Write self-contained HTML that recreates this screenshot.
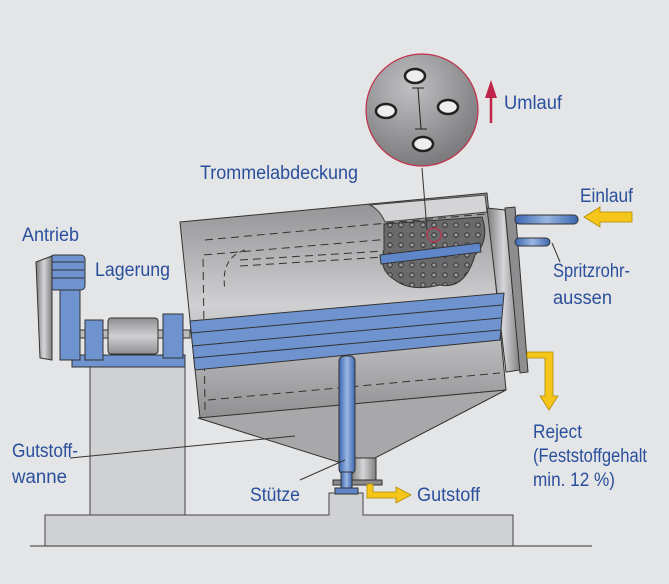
<!DOCTYPE html>
<html><head><meta charset="utf-8"><style>
html,body{margin:0;padding:0;background:#e4e5e7}
svg{display:block}
text{font-family:"Liberation Sans",sans-serif;font-size:19px;fill:#2a4f9c}
</style></head><body>
<svg width="669" height="584" viewBox="0 0 669 584" xmlns="http://www.w3.org/2000/svg">
<defs>
<linearGradient id="g" x1="0" y1="0" x2="0" y2="1"><stop offset="0" stop-color="#8e8e90"/><stop offset="0.5" stop-color="#d0d0d2"/><stop offset="1" stop-color="#909092"/></linearGradient>
<linearGradient id="gh" x1="0" y1="0" x2="1" y2="0"><stop offset="0" stop-color="#7a7a7c"/><stop offset="0.5" stop-color="#d6d6d8"/><stop offset="1" stop-color="#7e7e80"/></linearGradient>
<radialGradient id="gc" cx="0.4" cy="0.3" r="0.8"><stop offset="0" stop-color="#c0c0c2"/><stop offset="1" stop-color="#727274"/></radialGradient>
<linearGradient id="gb" x1="0" y1="0" x2="1" y2="0"><stop offset="0" stop-color="#3c66b0"/><stop offset="0.5" stop-color="#9ab6e2"/><stop offset="1" stop-color="#3c66b0"/></linearGradient>
<pattern id="holes" width="11" height="10" patternUnits="userSpaceOnUse"><rect width="11" height="10" fill="#6a6a6c"/><circle cx="5" cy="5" r="2.2" fill="#9a9a9c" stroke="#222" stroke-width="0.8"/></pattern>
</defs>
<rect width="669" height="584" fill="#e4e5e7"/>
<polygon points="45,515 329,515 329,493 363,493 363,515 513,515 513,546 45,546" fill="#d0d1d3" stroke="#444" stroke-width="1"/>
<polygon points="90,365 185,365 185,515 90,515" fill="#d0d1d3" stroke="#444" stroke-width="1"/>
<line x1="30" y1="546" x2="592" y2="546" stroke="#333" stroke-width="1"/>
<rect x="72" y="355" width="113" height="12" fill="#6e93cf" stroke="#333"/>
<rect x="60" y="268" width="20" height="92" fill="#6e93cf" stroke="#333"/>
<rect x="50" y="255" width="35" height="35" rx="4" fill="#6e93cf" stroke="#333"/>
<line x1="52" y1="262" x2="84" y2="262" stroke="#333"/><line x1="52" y1="270" x2="84" y2="270" stroke="#333"/><line x1="52" y1="278" x2="84" y2="278" stroke="#333"/>
<path d="M36,262 L52,256 L52,360 L40,358 Z" fill="url(#gh)" stroke="#333"/>
<rect x="80" y="330" width="110" height="8" fill="#bbb" stroke="#333"/>
<rect x="85" y="320" width="18" height="40" fill="#6e93cf" stroke="#333"/>
<rect x="108" y="318" width="50" height="36" rx="3" fill="url(#g)" stroke="#333"/>
<rect x="163" y="314" width="20" height="44" fill="#6e93cf" stroke="#333"/>
<polygon points="180,222 487,193 506,390 200,418" fill="url(#g)" stroke="#333" stroke-width="1"/>
<polygon points="198,418 506,390 375,458 338,462" fill="#a8a8aa" stroke="#333"/>
<rect x="350" y="458" width="26" height="23" fill="url(#gh)" stroke="#333"/>
<rect x="333" y="480" width="49" height="5" fill="#8a8a8c" stroke="#333"/>
<polyline points="205,410 203,255 495,230" fill="none" stroke="#333" stroke-dasharray="8,5"/>
<line x1="208" y1="400" x2="500" y2="373" stroke="#333" stroke-dasharray="8,5"/>
<line x1="205" y1="240" x2="495" y2="213" stroke="#333" stroke-dasharray="8,5"/>
<line x1="240" y1="260" x2="400" y2="250" stroke="#333" stroke-dasharray="8,5"/>
<line x1="240" y1="266" x2="400" y2="256" stroke="#333" stroke-dasharray="8,5"/>
<path d="M245,250 Q220,258 225,290" fill="none" stroke="#333" stroke-dasharray="6,4"/>
<path d="M384,224 L482,217 Q490,240 475,255 Q465,290 440,285 Q410,292 395,280 Q378,270 384,250 Z" fill="url(#holes)" stroke="#333"/>
<path d="M370,205 L485,195 L487,212 L385,222 Q380,210 370,205 Z" fill="#d4d4d6" stroke="#444"/>
<polygon points="380,255 480,243 481,252 381,264" fill="#5f86c8" stroke="#333"/>
<circle cx="434" cy="235" r="7" fill="none" stroke="#c0304a" stroke-width="1.2"/>
<polygon points="487,208 505,210 520,370 506,372" fill="url(#gh)" stroke="#333"/>
<polygon points="505,208 515,207 528,372 520,373" fill="#8e8e90" stroke="#333"/>
<rect x="515" y="215" width="63" height="9" rx="4" fill="url(#gb)" stroke="#333"/>
<rect x="515" y="238" width="35" height="8" rx="4" fill="url(#gb)" stroke="#333"/>
<polygon points="190,321 504,293 500,340 195,370" fill="#6e93cf" stroke="#333"/>
<line x1="191" y1="333" x2="502" y2="305" stroke="#333"/>
<line x1="192" y1="346" x2="501" y2="318" stroke="#333"/>
<line x1="193" y1="358" x2="500" y2="330" stroke="#333"/>
<rect x="339" y="356" width="16" height="118" rx="5" fill="url(#gb)" stroke="#333"/>
<rect x="341" y="472" width="11" height="18" fill="url(#gb)" stroke="#333"/>
<rect x="335" y="488" width="23" height="6" fill="#5f86c8" stroke="#333"/>
<line x1="422" y1="168" x2="427" y2="230" stroke="#333"/>
<circle cx="422" cy="110" r="56" fill="url(#gc)" stroke="#c0304a" stroke-width="1.2"/>
<g fill="#eee" stroke="#222" stroke-width="2.5">
<ellipse cx="415" cy="76" rx="10" ry="7"/><ellipse cx="386" cy="111" rx="10" ry="7"/><ellipse cx="448" cy="107" rx="10" ry="7"/><ellipse cx="423" cy="144" rx="10" ry="7"/>
</g>
<line x1="418" y1="88" x2="421" y2="129" stroke="#222"/><line x1="412" y1="88" x2="424" y2="88" stroke="#222"/><line x1="415" y1="129" x2="427" y2="129" stroke="#222"/>
<line x1="491" y1="123" x2="491" y2="95" stroke="#c0244a" stroke-width="2.5"/>
<polygon points="485,98 491,80 497,98" fill="#c0244a"/>
<g fill="#f5c51a" stroke="#b08a00" stroke-width="0.8">
<polygon points="632,212 600,212 600,207 584,217 600,227 600,222 632,222"/>
<polygon points="527,352 553,352 553,396 558,396 549,410 540,396 545,396 545,358 527,358"/>
<polygon points="367,484 373,484 373,492 396,492 396,487 411,495 396,503 396,498 367,498"/>
</g>
<line x1="560" y1="262" x2="552" y2="243" stroke="#333"/>
<line x1="70" y1="458" x2="295" y2="436" stroke="#333"/>
<line x1="300" y1="480" x2="345" y2="460" stroke="#333"/>
<g lengthAdjust="spacingAndGlyphs">
<text x="504" y="109" textLength="58" lengthAdjust="spacingAndGlyphs">Umlauf</text>
<text x="200" y="179" textLength="158" lengthAdjust="spacingAndGlyphs">Trommelabdeckung</text>
<text x="580" y="202" textLength="53" lengthAdjust="spacingAndGlyphs">Einlauf</text>
<text x="22" y="241" textLength="57" lengthAdjust="spacingAndGlyphs">Antrieb</text>
<text x="95" y="276" textLength="75" lengthAdjust="spacingAndGlyphs">Lagerung</text>
<text x="553" y="277" textLength="77" lengthAdjust="spacingAndGlyphs">Spritzrohr-</text>
<text x="553" y="304" textLength="59" lengthAdjust="spacingAndGlyphs">aussen</text>
<text x="533" y="438" textLength="49" lengthAdjust="spacingAndGlyphs">Reject</text>
<text x="533" y="462" textLength="114" lengthAdjust="spacingAndGlyphs">(Feststoffgehalt</text>
<text x="533" y="486" textLength="82" lengthAdjust="spacingAndGlyphs">min. 12 %)</text>
<text x="12" y="457" textLength="66" lengthAdjust="spacingAndGlyphs">Gutstoff-</text>
<text x="12" y="483" textLength="55" lengthAdjust="spacingAndGlyphs">wanne</text>
<text x="250" y="501" textLength="50" lengthAdjust="spacingAndGlyphs">Stütze</text>
<text x="417" y="501" textLength="63" lengthAdjust="spacingAndGlyphs">Gutstoff</text>
</g>
</svg>
</body></html>
